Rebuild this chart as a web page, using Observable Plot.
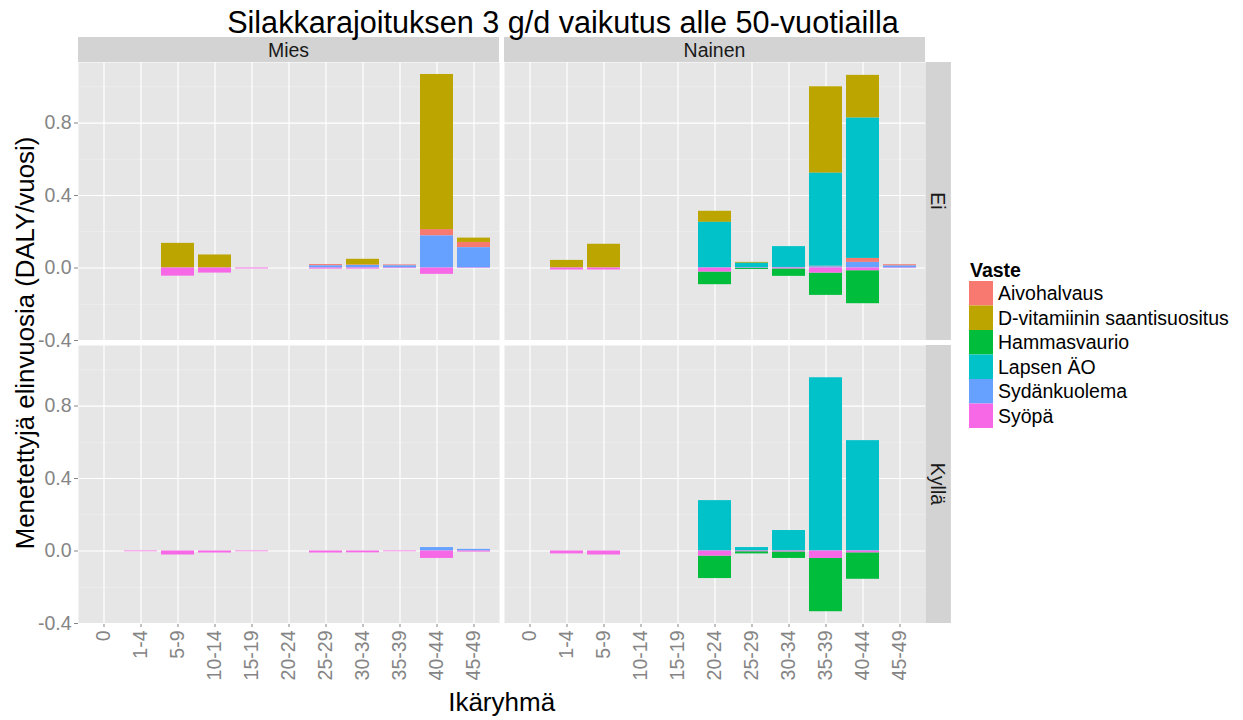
<!DOCTYPE html>
<html><head><meta charset="utf-8">
<script src="https://cdn.jsdelivr.net/npm/d3@7"></script>
<script src="https://cdn.jsdelivr.net/npm/@observablehq/plot@0.6"></script>
<style>
body{margin:0;background:#fff;}
#chart svg{display:block;max-width:none;}
</style>
</head><body><div id="chart"></div>
<script>
// ---- data ----
const ages = ["0","1-4","5-9","10-14","15-19","20-24","25-29","30-34","35-39","40-44","45-49"];
const sexes = ["Mies","Nainen"];
const rowsLab = ["Ei","Kyllä"];
const vasteet = ["Aivohalvaus","D-vitamiinin saantisuositus","Hammasvaurio","Lapsen ÄO","Sydänkuolema","Syöpä"];
const vasteColors = ["#F8796F","#BDA500","#00BD3C","#00C2C8","#66A1FF","#F668E5"];
const stackOrder = ["Syöpä","Sydänkuolema","Aivohalvaus","Hammasvaurio","Lapsen ÄO","D-vitamiinin saantisuositus"];

// each panel: one row per vaste (order of `vasteet`), one value per age group
const miesEi = [
  [0,0,0,0,0,0,0.007,0.003,0.005,0.035,0.029],
  [0,0,0.136,0.072,0,0,0,0.031,0,0.856,0.024],
  [0,0,0,0,0,0,0,0,0,0,0],
  [0,0,0,0,0,0,0,0,0,0,0],
  [0,0,0,0,0,0,0.012,0.014,0.012,0.177,0.112],
  [0,0,-0.045,-0.028,-0.005,0,-0.006,-0.006,-0.003,-0.035,-0.002]
];
const nainenEi = [
  [0,0,0,0,0,0,0,0,0.004,0.022,0.007],
  [0,0.042,0.131,0,0,0.061,0.005,0,0.477,0.236,0],
  [0,0,0,0,0,-0.070,-0.006,-0.041,-0.123,-0.182,0],
  [0,0,0,0,0,0.252,0.026,0.115,0.513,0.774,0],
  [0,0,0,0,0,0,0,0.003,0.006,0.031,0.011],
  [0,-0.011,-0.011,0,0,-0.022,-0.002,-0.005,-0.028,-0.015,-0.002]
];
const miesKylla = [
  [0,0,0,0,0,0,0,0,0,0,0],
  [0,0,0,0,0,0,0,0,0,0,0],
  [0,0,0,0,0,0,0,0,0,0,0],
  [0,0,0,0,0,0,0,0,0,0,0],
  [0,0,0,0,0,0,0,0,0,0.019,0.009],
  [0,-0.004,-0.022,-0.011,-0.004,0,-0.011,-0.010,-0.004,-0.041,-0.006]
];
const nainenKylla = [
  [0,0,0,0,0,0,0,0,0,0,0],
  [0,0,0,0,0,0,0,0,0,0,0],
  [0,0,0,0,0,-0.124,-0.012,-0.036,-0.294,-0.146,0],
  [0,0,0,0,0,0.278,0.019,0.113,0.956,0.609,0],
  [0,0,0,0,0,0,0,0,0,0,0],
  [0,-0.016,-0.022,0,0,-0.028,-0.004,-0.005,-0.041,-0.010,0]
];
const majorY = [-0.4, 0, 0.4, 0.8];
const minorY = [-0.2, 0.2, 0.6, 1.0];

const titleText = "Silakkarajoituksen 3 g/d vaikutus alle 50-vuotiailla";
const yTitle = "Menetettyjä elinvuosia (DALY/vuosi)";
const xTitle = "Ikäryhmä";
const legendTitle = "Vaste";

(function () {
// ---- build table ----
const panels = [["Mies","Ei",miesEi],["Nainen","Ei",nainenEi],["Mies","Kyllä",miesKylla],["Nainen","Kyllä",nainenKylla]];
const data = [];
for (const [sex,row,table] of panels)
  table.forEach((vals,k)=>vals.forEach((v,i)=>{ if (v !== 0) data.push({sex,row,age:ages[i],vaste:vasteet[k],value:v}); }));

const FONT = "'Liberation Sans', Arial, sans-serif";
const plot = Plot.plot({
  width: 1243, height: 720,
  marginTop: 62, marginBottom: 96, marginLeft: 78, marginRight: 317.7,
  style: {fontFamily: FONT, fontSize: "19.5px", color: "#858585", background: "white", overflow: "visible"},
  facet: {data, x: "sex", y: "row"},
  fx: {domain: sexes, paddingInner: 0.0117, paddingOuter: 0, axis: null, label: null},
  fy: {domain: rowsLab, paddingInner: 0.0176, paddingOuter: 0, axis: null, label: null},
  x: {domain: ages, paddingInner: 0.1, paddingOuter: 0.15, align: 0.5, tickRotate: -90, tickSize: 4, tickPadding: 3, label: null},
  y: {domain: [-0.4, 1.134], ticks: majorY, tickFormat: d => d.toFixed(1), tickSize: 4, tickPadding: 3, label: null},
  color: {domain: vasteet, range: vasteColors},
  marks: [
    Plot.frame({fill: "#E6E6E6", stroke: "none"}),
    Plot.ruleY(minorY, {stroke: "#F2F2F2", strokeWidth: 0.6}),
    Plot.ruleY(majorY, {stroke: "#FFFFFF", strokeWidth: 1.2}),
    Plot.ruleX(ages, {stroke: "#FFFFFF", strokeWidth: 1.2}),
    Plot.barY(data, Plot.stackY({x: "age", y: "value", fill: "vaste", order: stackOrder, inset: 0}))
  ]
});
document.getElementById("chart").append(plot);

// ---- decorations: strips, titles, legend (positioned from Plot's scales) ----
const svg = d3.select(plot);
const fx = plot.scale("fx"), fy = plot.scale("fy"), color = plot.scale("color");
const pTop = fy.range[0], pBottom = fy.range[1], pLeft = fx.range[0], pRight = fx.range[1];
const STRIP = "#D3D3D3";
const g = svg.append("g").attr("font-family", FONT);

for (const s of sexes) {
  const x0 = fx.apply(s);
  g.append("rect").attr("x", x0).attr("y", pTop - 25).attr("width", fx.bandwidth).attr("height", 25).attr("fill", STRIP);
  g.append("text").attr("x", x0 + fx.bandwidth / 2).attr("y", pTop - 11.5).attr("dy", "0.35em")
    .attr("text-anchor", "middle").attr("font-size", 19.5).attr("fill", "#1A1A1A").text(s);
}
for (const r of rowsLab) {
  const y0 = fy.apply(r);
  g.append("rect").attr("x", pRight + 0.3).attr("y", y0).attr("width", 25.3).attr("height", fy.bandwidth).attr("fill", STRIP);
  g.append("text").attr("transform", `translate(${pRight + 13},${y0 + fy.bandwidth / 2}) rotate(90)`)
    .attr("dy", "0.35em").attr("text-anchor", "middle").attr("font-size", 19.5).attr("fill", "#1A1A1A").text(r);
}
// title
g.append("text").attr("x", 563).attr("y", 33).attr("text-anchor", "middle")
  .attr("font-size", 30.6).attr("fill", "#000").text(titleText);
// axis titles
g.append("text").attr("transform", `translate(34,${(pTop + pBottom) / 2}) rotate(-90)`)
  .attr("text-anchor", "middle").attr("font-size", 25.8).attr("fill", "#000").text(yTitle);
g.append("text").attr("x", (pLeft + pRight) / 2).attr("y", 711).attr("text-anchor", "middle")
  .attr("font-size", 26).attr("fill", "#000").text(xTitle);
// legend
const lg = g.append("g").attr("transform", "translate(969,281)").attr("text-anchor", "start");
lg.append("text").attr("x", 1).attr("y", -4.5).attr("font-size", 19.5).attr("font-weight", "bold").attr("fill", "#000").text(legendTitle);
vasteet.forEach((v, i) => {
  lg.append("rect").attr("x", 0).attr("y", i * 24.5).attr("width", 24).attr("height", 24.5).attr("fill", color.apply(v));
  lg.append("text").attr("x", 29).attr("y", i * 24.5 + 12.25).attr("dy", "0.35em")
    .attr("font-size", 19.5).attr("fill", "#000").text(v);
});
})();
</script>
</body></html>
